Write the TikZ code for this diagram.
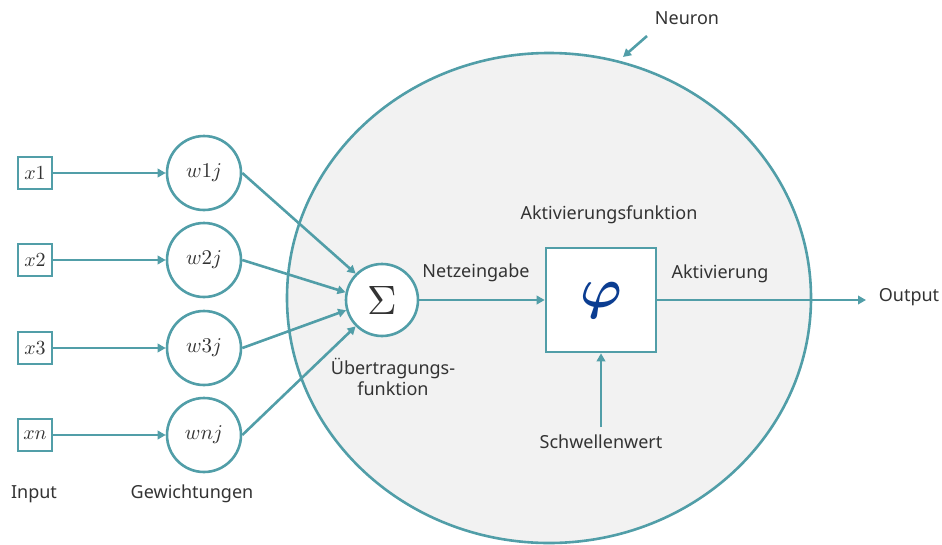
\documentclass[tikz,border=0pt]{standalone}
\usepackage{graphicx}
\usepackage{amsmath}
\usepackage{fontspec}
\setmainfont{Noto Sans}
\usetikzlibrary{arrows.meta,shapes.geometric}
\definecolor{teal1}{HTML}{519EA8}
\definecolor{bgfill}{HTML}{F2F2F2}
\definecolor{txt}{HTML}{333333}
\definecolor{phiblue}{HTML}{0B3D91}
\newcommand{\mymath}[2]{\scalebox{#1}{$#2$}}
\tikzset{
  conn/.style={draw=teal1, line width=2.6pt},
  arr/.style={conn, -{Triangle[length=8pt,width=8.5pt]}},
  inbox/.style={draw=teal1, line width=2.4pt, fill=white, minimum width=34pt, minimum height=32pt, inner sep=0pt, text=txt},
  wcirc/.style={circle, draw=teal1, line width=2.6pt, fill=white, minimum size=74pt, inner sep=0pt, text=txt},
  sumcirc/.style={circle, draw=teal1, line width=2.6pt, fill=white, minimum size=72pt, inner sep=0pt, text=txt},
  phibox/.style={draw=teal1, line width=2.6pt, fill=white, minimum width=110pt, minimum height=104pt, inner sep=0pt, text=phiblue},
  lbl/.style={text=txt, font=\fontsize{18}{21}\selectfont, inner sep=0pt, align=center},
}
\begin{document}
\begin{tikzpicture}[x=1pt,y=-1pt]
\useasboundingbox (0,0) rectangle (942,544);
% neuron body
\path[clip] (0,0) rectangle (942,544);
\node[ellipse, draw=teal1, line width=2.6pt, fill=bgfill, minimum width=524pt, minimum height=490pt, inner sep=0pt] (neuron) at (549,298) {};
% inputs
\node[inbox] (x1) at (35,173) {\mymath{2.0}{x1}};
\node[inbox] (x2) at (35,260) {\mymath{2.0}{x2}};
\node[inbox] (x3) at (35,348) {\mymath{2.0}{x3}};
\node[inbox] (xn) at (35,435) {\mymath{2.0}{xn}};
% weights
\node[wcirc] (w1) at (204,173) {\mymath{2.1}{w1j}};
\node[wcirc] (w2) at (204,260) {\mymath{2.1}{w2j}};
\node[wcirc] (w3) at (204,348) {\mymath{2.1}{w3j}};
\node[wcirc] (wn) at (204,435) {\mymath{2.1}{wnj}};
% sum
\node[sumcirc] (sum) at (382,300) {\mymath{4.1}{\Sigma}};
% activation
\node[phibox] (phi) at (601,300) {\mymath{5.6}{\boldsymbol{\varphi}}};
% connectors
\draw[arr] (x1) -- (w1);
\draw[arr] (x2) -- (w2);
\draw[arr] (x3) -- (w3);
\draw[arr] (xn) -- (wn);
\draw[arr] (w1.east) -- (sum.135);
\draw[arr] (w2.east) -- (sum.168);
\draw[arr] (w3.east) -- (sum.196);
\draw[arr] (wn.east) -- (sum.225);
\draw[arr] (sum) -- (phi);
\coordinate (thr) at (601,427);
\draw[arr] (thr) -- (phi);
\coordinate (out) at (866,300);
\draw[arr] (phi) -- (out);
\coordinate (nstart) at (647,36);
\coordinate (nend) at (623,57);
\draw[arr] (nstart) -- (nend);
% labels
\node[lbl] (lneuron) at (687,18) {Neuron};
\node[lbl] (lnetz) at (476,273) {Netzeingabe};
\node[lbl] (lakfun) at (609,215) {Aktivierungsfunktion};
\node[lbl] (lakt) at (720,274) {Aktivierung};
\node[lbl] (luebe) at (393,377) {Übertragungs-\\funktion};
\node[lbl] (lschw) at (601,442) {Schwellenwert};
\node[lbl] (linput) at (34,494) {Input};
\node[lbl] (lgew) at (192,494) {Gewichtungen};
\node[lbl] (lout) at (909,297) {Output};
\end{tikzpicture}
\end{document}
